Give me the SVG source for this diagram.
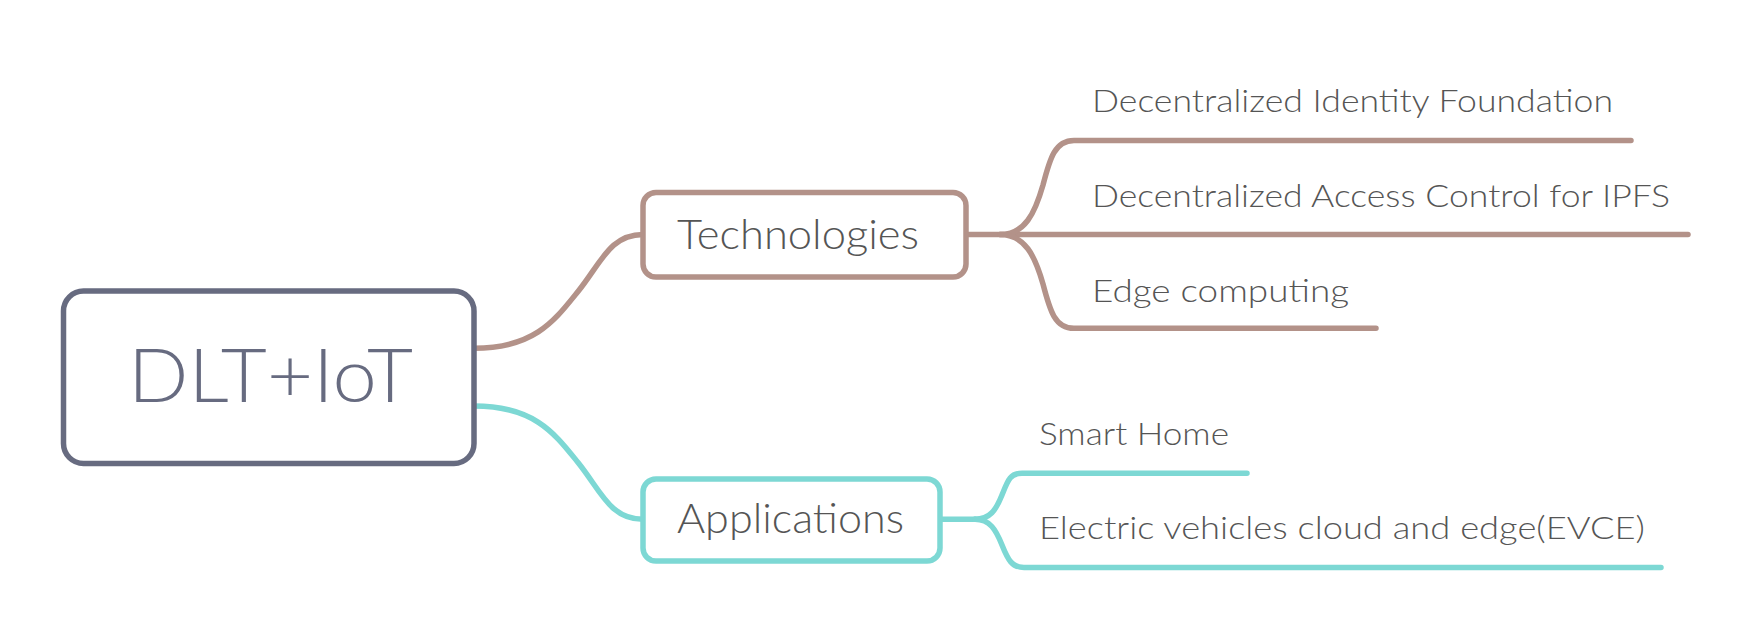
<svg xmlns="http://www.w3.org/2000/svg" width="1752" height="631" viewBox="0 0 1752 631">
<style>
.bg{fill:#ffffff}
.conn{fill:none;stroke-width:5.5;stroke-linecap:round;stroke-linejoin:round}
.brown{stroke:#b39289}
.cyan{stroke:#7dd8d4}
.box{fill:#ffffff;stroke-width:5.5}
.t{font-family:Lato,"Noto Sans","Liberation Sans",sans-serif;font-weight:300;fill:#555555}
.child{font-size:32px}
.main{font-size:41px}
.root{font-size:74px;fill:#676b80}
</style>
<rect class="bg" x="0" y="0" width="1752" height="631"/>
<g id="connectors">
  <path class="conn brown" d="M474,348.3 C535,348.3 555,320 578,291.5 C601,263 610,234.5 643,234.5"/>
  <path class="conn cyan" d="M474,406 C535,406 555,434 578,462.5 C601,491 610,519.3 643,519.3"/>
  <path class="conn brown" d="M966,234.5 H1688"/>
  <path class="conn brown" d="M1000,234.5 C1025,234.5 1035,213 1043,185 C1050,158 1055,140.5 1074,140.5 H1631"/>
  <path class="conn brown" d="M1000,234.5 C1025,234.5 1035,256 1043,284 C1050,311 1055,328.3 1074,328.3 H1376"/>
  <path class="conn cyan" d="M940,519.3 H975"/>
  <path class="conn cyan" d="M975,519.3 C990,519.3 996,510 1002,495 C1008,480 1010,473.3 1022,473.3 H1247"/>
  <path class="conn cyan" d="M975,519.3 C990,519.3 996,530 1002,545 C1008,560 1012,567.5 1024,567.5 H1661"/>
</g>
<g id="root">
  <rect class="box" x="63.5" y="291" width="410.5" height="172.5" rx="20" stroke="#676b80"/>
  <text class="t root" x="128" y="401.5" textLength="285" lengthAdjust="spacingAndGlyphs">DLT+IoT</text>
</g>
<g id="technologies">
  <rect class="box" x="643" y="192.5" width="323" height="84.5" rx="13" stroke="#b39289"/>
  <text class="t main" x="677" y="249" textLength="242" lengthAdjust="spacingAndGlyphs">Technologies</text>
</g>
<g id="applications">
  <rect class="box" x="643" y="479" width="297" height="82" rx="13" stroke="#7dd8d4"/>
  <text class="t main" x="677" y="533.3" textLength="227" lengthAdjust="spacingAndGlyphs">Applications</text>
</g>
<g id="dif">
  <text class="t child" x="1092" y="111.7" textLength="521" lengthAdjust="spacingAndGlyphs">Decentralized Identity Foundation</text>
</g>
<g id="dacipfs">
  <text class="t child" x="1092" y="207.3" textLength="578" lengthAdjust="spacingAndGlyphs">Decentralized Access Control for IPFS</text>
</g>
<g id="edge">
  <text class="t child" x="1092" y="301.7" textLength="257" lengthAdjust="spacingAndGlyphs">Edge computing</text>
</g>
<g id="smarthome">
  <text class="t child" x="1039" y="445" textLength="190" lengthAdjust="spacingAndGlyphs">Smart Home</text>
</g>
<g id="evce">
  <text class="t child" x="1039" y="539.3" textLength="606" lengthAdjust="spacingAndGlyphs">Electric vehicles cloud and edge(EVCE)</text>
</g>
</svg>
